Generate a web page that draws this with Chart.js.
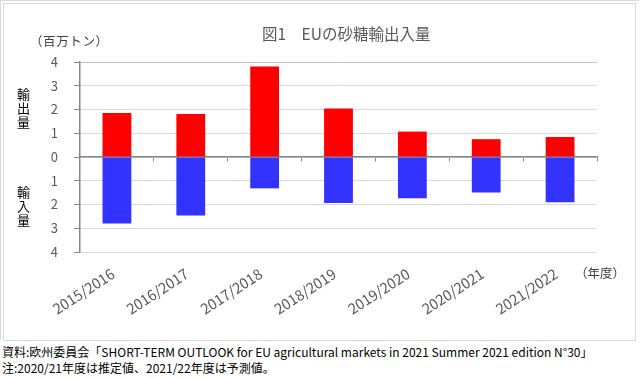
<!DOCTYPE html>
<html lang="ja">
  <head>
    <meta charset="utf-8" />
    <title>EUの砂糖輸出入量</title>
    <style>
      * {
        margin: 0;
        padding: 0;
      }
      body {
        width: 640px;
        height: 378px;
        background: #fff;
        position: relative;
        overflow: hidden;
        font-family: "Noto Sans CJK JP", sans-serif;
      }
      .outer {
        position: absolute;
        left: 0;
        top: 0;
        width: 639px;
        height: 340px;
        border-left: 1px solid #d9d9d9;
        border-top: 1px solid #d9d9d9;
        box-sizing: border-box;
      }
      .frame {
        position: absolute;
        left: 3px;
        top: 3px;
        width: 633px;
        height: 338px;
        border: 1px solid #d9d9d9;
        box-sizing: border-box;
      }
      .chartBox {
        position: absolute;
        left: 0;
        top: 0;
        width: 640px;
        height: 340px;
      }
      .txt {
        position: absolute;
        white-space: nowrap;
      }
      .title {
        left: 262px;
        top: 22px;
        font-size: 15.5px;
        color: #595959;
      }
      .unit {
        left: 30px;
        top: 31px;
        font-size: 12.5px;
        letter-spacing: 0.6px;
        color: #404040;
      }
      .vert {
        width: 14px;
        font-size: 13px;
        line-height: 14px;
        color: #000;
        white-space: normal;
      }
      .year {
        left: 575px;
        top: 263px;
        font-size: 12.5px;
        color: #404040;
      }
      .note {
        left: 2px;
        font-size: 12px;
        color: #000;
      }
    </style>
  </head>
  <body>
    <div class="outer"></div>
    <div class="frame"></div>
    <div class="chartBox">
      <canvas id="myChart"></canvas>
    </div>
    <div class="txt title">図1　EUの砂糖輸出入量</div>
    <div class="txt unit">（百万トン）</div>
    <div class="txt vert" style="left: 17px; top: 87px">輸出量</div>
    <div class="txt vert" style="left: 17px; top: 185px">輸入量</div>
    <div class="txt year">（年度）</div>
    <div class="txt note" style="top: 343px">資料:欧州委員会「SHORT-TERM OUTLOOK for EU agricultural markets in 2021 Summer 2021 edition N°30」</div>
    <div class="txt note" style="top: 359px">注:2020/21年度は推定値、2021/22年度は予測値。</div>

    <script src="https://cdn.jsdelivr.net/npm/chart.js@4/dist/chart.umd.min.js"></script>

    <script>
      // data block
      const years = ["2015/2016", "2016/2017", "2017/2018", "2018/2019", "2019/2020", "2020/2021", "2021/2022"];
      const exports = [1.85, 1.81, 3.81, 2.04, 1.07, 0.75, 0.84];
      const imports = [2.8, 2.46, 1.32, 1.94, 1.74, 1.49, 1.9];
      const yTicks = [-4, -3, -2, -1, 0, 1, 2, 3, 4];

      const data = {
        labels: years,
        datasets: [
          {
            label: "輸出量",
            data: exports,
            backgroundColor: "#ff0000",
            barPercentage: 0.39,
            categoryPercentage: 1,
          },
          {
            label: "輸入量",
            data: imports.map((v) => -v),
            backgroundColor: "#3333ff",
            barPercentage: 0.39,
            categoryPercentage: 1,
          },
        ],
      };

      const font = { family: "'Noto Sans CJK JP', sans-serif", size: 13 };

      // config block
      const config = {
        type: "bar",
        data: data,
        options: {
          responsive: false,
          animation: false,
          layout: { padding: { top: 62, right: 43, left: 0, bottom: 0 } },
          plugins: {
            legend: { display: false },
            tooltip: { enabled: false },
          },
          scales: {
            // axis line at zero with small tick marks
            x: {
              position: { y: 0 },
              stacked: true,
              offset: true,
              ticks: { display: false },
              grid: {
                drawOnChartArea: false,
                tickLength: 4,
                color: "#868686",
              },
              border: { color: "#868686", width: 1.5 },
            },
            // category labels at the bottom
            x2: {
              type: "category",
              position: "bottom",
              offset: true,
              grid: { display: false, drawTicks: false },
              border: { display: false },
              ticks: {
                color: "#595959",
                font: { family: font.family, size: 14.5 },
                minRotation: 33,
                maxRotation: 33,
                autoSkip: false,
                padding: 13,
                labelOffset: -4,
              },
              afterFit(scale) {
                scale.height = 88;
              },
            },
            y: {
              stacked: true,
              min: -4,
              max: 4,
              afterBuildTicks(scale) {
                scale.ticks = yTicks.map((v) => ({ value: v }));
              },
              ticks: {
                color: "#595959",
                font: font,
                padding: 16,
                callback: (v) => Math.abs(v),
              },
              grid: {
                tickLength: 6,
                color: (c) => (c.tick && c.tick.value === 4 ? "#bfbfbf" : "#d9d9d9"),
                tickColor: "#868686",
              },
              border: { color: "#868686", width: 1.5 },
              afterFit(scale) {
                scale.width = 80;
              },
            },
          },
        },
      };

      const canvas = document.getElementById("myChart");
      canvas.width = 640;
      canvas.height = 340;
      const myChart = new Chart(canvas, config);
    </script>
  </body>
</html>
